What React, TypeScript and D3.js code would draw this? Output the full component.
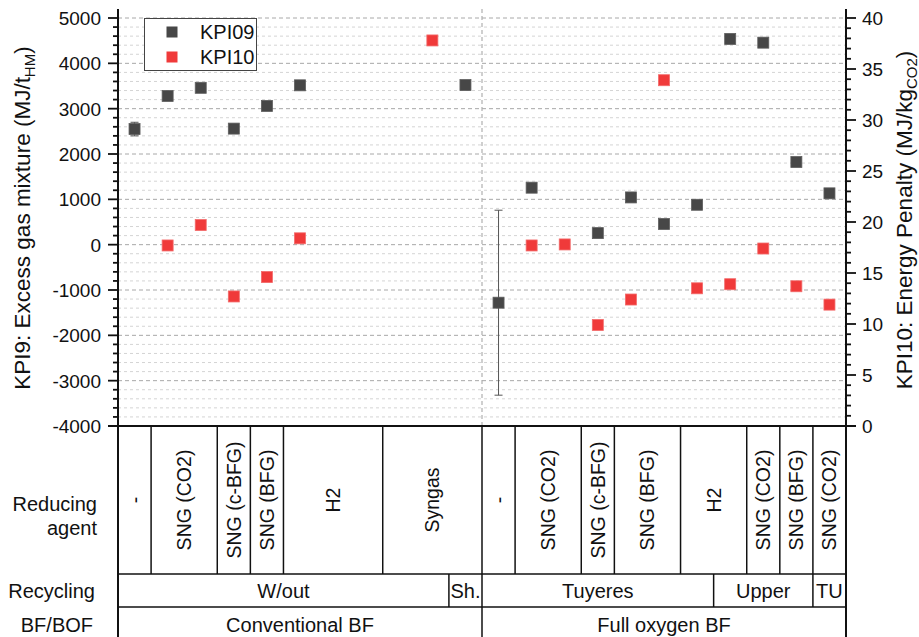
import React from 'react';
import * as d3 from 'd3';

// KPI09 (left axis, MJ/t_HM) and KPI10 (right axis, MJ/kg_CO2) per case slot
const kpi09: (number | null)[] = [
  2550, 3280, 3460, 2560, 3060, 3515, null, null, null, null, 3520,
  -1280, 1257, null, 255, 1042, 456, 880, 4538, 4456, 1823, 1132,
];
const kpi09Err: (number | null)[] = [
  150, null, null, null, null, null, null, null, null, null, null,
  2040, null, null, null, null, null, null, null, null, null, null,
];
const kpi10: (number | null)[] = [
  null, 17.7, 19.7, 12.7, 14.6, 18.4, null, null, null, 37.8, null,
  null, 17.7, 17.8, 9.9, 12.4, 33.9, 13.5, 13.9, 17.4, 13.7, 11.9,
];

const reducingAgents = [
  '-', 'SNG (CO2)', 'SNG (c-BFG)', 'SNG (BFG)', 'H2', 'Syngas',
  '-', 'SNG (CO2)', 'SNG (c-BFG)', 'SNG (BFG)', 'H2', 'SNG (CO2)', 'SNG (BFG)', 'SNG (CO2)',
];
const reducingSpans = [1, 2, 1, 1, 3, 3, 1, 2, 1, 2, 2, 1, 1, 1];
const recyclingLabels = ['W/out', 'Sh.', 'Tuyeres', 'Upper', 'TU'];
const recyclingSpans = [10, 1, 7, 3, 1];
const furnaceLabels = ['Conventional BF', 'Full oxygen BF'];
const furnaceSpans = [11, 11];

const leftTicks = d3.range(-4000, 5001, 1000);
const leftMinor = d3.range(-4000, 5001, 200);
const rightTicks = d3.range(0, 41, 5);
const rightMinor = d3.range(0, 41, 1);

const FONT = '"Liberation Sans", Arial, sans-serif';
const W = 919;
const H = 637;
const left = 118;
const right = 846;
const top = 18;
const bottom = 426;
const axisTop = 9;
const rowA = 574;
const rowB = 607;

const nSlots = kpi09.length;
const x = d3.scaleLinear().domain([0, nSlots]).range([left, right]);
const yL = d3.scaleLinear().domain([-4000, 5000]).range([bottom, top]);
const yR = d3.scaleLinear().domain([0, 40]).range([bottom, top]);

const C09 = '#474747';
const C10 = '#f03a3a';
const MS = 11;

function cells(labels: string[], spans: number[]) {
  const ends = Array.from(d3.cumsum(spans));
  return labels.map((label, i) => ({ label, start: ends[i] - spans[i], end: ends[i] }));
}

export default function App() {
  const ra = cells(reducingAgents, reducingSpans);
  const rc = cells(recyclingLabels, recyclingSpans);
  const bf = cells(furnaceLabels, furnaceSpans);

  return (
    <svg width={W} height={H} style={{ position: 'absolute', left: 0, top: 0, background: '#fff' }} fontFamily={FONT}>
      {/* grid */}
      {leftMinor.filter(v => v % 1000 !== 0).map(v => (
        <line key={'gm' + v} x1={left} x2={right} y1={yL(v)} y2={yL(v)} stroke="#d4d4d4" strokeWidth={1} strokeDasharray="3,3" />
      ))}
      {leftTicks.filter(v => v > -4000).map(v => (
        <line key={'gM' + v} x1={left} x2={right} y1={yL(v)} y2={yL(v)} stroke="#a8a8a8" strokeWidth={1} strokeDasharray="4,3" />
      ))}
      <line x1={x(11)} x2={x(11)} y1={axisTop} y2={bottom} stroke="#b0b0b0" strokeWidth={1.2} strokeDasharray="4,3" />

      {/* error bars */}
      {kpi09.map((v, i) => {
        const e = kpi09Err[i];
        if (v == null || e == null) return null;
        const cx = x(i + 0.5);
        return (
          <g key={'e' + i} stroke="#555" strokeWidth={1}>
            <line x1={cx} x2={cx} y1={yL(v + e)} y2={yL(v - e)} />
            <line x1={cx - 4} x2={cx + 4} y1={yL(v + e)} y2={yL(v + e)} />
            <line x1={cx - 4} x2={cx + 4} y1={yL(v - e)} y2={yL(v - e)} />
          </g>
        );
      })}

      {/* markers */}
      {kpi09.map((v, i) => v == null ? null : (
        <rect key={'a' + i} x={x(i + 0.5) - MS / 2} y={yL(v) - MS / 2} width={MS} height={MS} fill={C09} stroke="#5e5e5e" strokeWidth={0.8} />
      ))}
      {kpi10.map((v, i) => v == null ? null : (
        <rect key={'b' + i} x={x(i + 0.5) - MS / 2} y={yR(v) - MS / 2} width={MS} height={MS} fill={C10} stroke="#f36a6a" strokeWidth={0.8} />
      ))}

      {/* legend */}
      <rect x={144.5} y={18.5} width={112} height={52} fill="#fff" stroke="#444" strokeWidth={1} />
      <rect x={172 - MS / 2} y={32 - MS / 2} width={MS} height={MS} fill={C09} />
      <rect x={172 - MS / 2} y={57 - MS / 2} width={MS} height={MS} fill={C10} />
      <text x={200} y={39} fontSize={20} fill="#111">KPI09</text>
      <text x={200} y={64} fontSize={20} fill="#111">KPI10</text>

      {/* left axis */}
      <line x1={left} x2={left} y1={axisTop} y2={H} stroke="#111" strokeWidth={2} />
      {leftMinor.map(v => (
        <line key={'lm' + v} x1={left - (v % 1000 === 0 ? 10 : 5)} x2={left} y1={yL(v)} y2={yL(v)} stroke="#111" strokeWidth={1.8} />
      ))}
      {leftTicks.map(v => (
        <text key={'lt' + v} x={101} y={yL(v)} dy="0.36em" textAnchor="end" fontSize={19} fill="#111">{v}</text>
      ))}
      <text transform={`translate(30,218) rotate(-90)`} textAnchor="middle" fontSize={22.5} fill="#111">
        KPI9: Excess gas mixture (MJ/t<tspan fontSize={15} dy={5}>HM</tspan><tspan dy={-5}>)</tspan>
      </text>

      {/* right axis */}
      <line x1={right} x2={right} y1={axisTop} y2={H} stroke="#111" strokeWidth={2} />
      {rightMinor.map(v => (
        <line key={'rm' + v} x1={right} x2={right + (v % 5 === 0 ? 10 : 5)} y1={yR(v)} y2={yR(v)} stroke="#111" strokeWidth={1.8} />
      ))}
      {rightTicks.map(v => (
        <text key={'rt' + v} x={862} y={yR(v)} dy="0.36em" textAnchor="start" fontSize={19} fill="#111">{v}</text>
      ))}
      <text transform={`translate(912,220) rotate(-90)`} textAnchor="middle" fontSize={22.5} fill="#111">
        KPI10: Energy Penalty (MJ/kg<tspan fontSize={15} dy={5}>CO2</tspan><tspan dy={-5}>)</tspan>
      </text>

      {/* table */}
      <line x1={left - 10} x2={right + 10} y1={bottom} y2={bottom} stroke="#111" strokeWidth={2} />
      <line x1={left} x2={right} y1={rowA} y2={rowA} stroke="#111" strokeWidth={1.5} />
      <line x1={left} x2={right} y1={rowB} y2={rowB} stroke="#111" strokeWidth={1.5} />
      {ra.map((c, i) => (
        <g key={'ra' + i}>
          {c.start > 0 && <line x1={x(c.start)} x2={x(c.start)} y1={bottom} y2={rowA} stroke="#111" strokeWidth={1.5} />}
          <text transform={`translate(${(x(c.start) + x(c.end)) / 2},500) rotate(-90)`} textAnchor="middle" dy="0.36em" fontSize={19.5} fill="#111">{c.label}</text>
        </g>
      ))}
      {rc.map((c, i) => (
        <g key={'rc' + i}>
          {c.start > 0 && <line x1={x(c.start)} x2={x(c.start)} y1={rowA} y2={rowB} stroke="#111" strokeWidth={1.5} />}
          <text x={(x(c.start) + x(c.end)) / 2} y={598} textAnchor="middle" fontSize={20} fill="#111">{c.label}</text>
        </g>
      ))}
      {bf.map((c, i) => (
        <g key={'bf' + i}>
          {c.start > 0 && <line x1={x(c.start)} x2={x(c.start)} y1={rowB} y2={H} stroke="#111" strokeWidth={1.5} />}
          <text x={(x(c.start) + x(c.end)) / 2} y={632} textAnchor="middle" fontSize={20} fill="#111">{c.label}</text>
        </g>
      ))}
      <text x={97} y={511} textAnchor="end" fontSize={20} fill="#111">Reducing</text>
      <text x={97} y={535} textAnchor="end" fontSize={20} fill="#111">agent</text>
      <text x={95} y={598} textAnchor="end" fontSize={20} fill="#111">Recycling</text>
      <text x={93} y={632} textAnchor="end" fontSize={20} fill="#111">BF/BOF</text>
    </svg>
  );
}
